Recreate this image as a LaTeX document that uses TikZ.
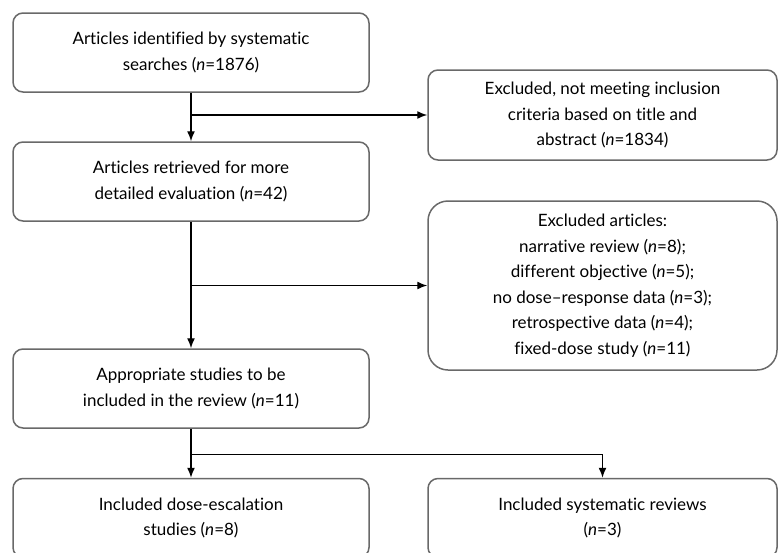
\documentclass[tikz,border=0pt]{standalone}
\usepackage{fontspec}
\setmainfont{Lato}[Ligatures=NoCommon]
\usepackage{tikz}
\usetikzlibrary{shapes.geometric, arrows, arrows.meta}
\definecolor{boxline}{RGB}{105,105,105}
\tikzstyle{stepbox} = [rectangle, rounded corners=10pt, minimum width=356pt, minimum
height=79pt, inner sep=0pt, align=center, draw=boxline, line width=1.5pt]
\tikzstyle{exclbox} = [rectangle, rounded corners=10pt, minimum width=349pt, minimum
height=90pt, inner sep=0pt, align=center, draw=boxline, line width=1.5pt]
\tikzstyle{arrow} =
[line width=1.4pt,-{Latex[length=10pt,width=8pt]}]

\begin{document}
\begin{tikzpicture}[x=1pt, y=-1pt, node distance=129pt,
  font=\fontsize{17}{25.5}\selectfont]

\useasboundingbox (0,0) rectangle (779,552);

\node(search)[stepbox] at (191,52.5){Articles identified by systematic\\searches (\emph{n}=1876)};
\node(retrieved)[stepbox, below of=search]{Articles retrieved for more\\detailed evaluation (\emph{n}=42)};
\node(studies)[stepbox, below of=retrieved, yshift=-78pt]{Appropriate studies to be\\included in the review (\emph{n}=11)};
\node(escalation)[stepbox, below of=studies, yshift=-0.5pt]{Included dose-escalation\\studies (\emph{n}=8)};

\node(title)[exclbox, right of=search, xshift=282.5pt, yshift=-62.5pt]{Excluded, not meeting inclusion\\criteria based on title and\\abstract (\emph{n}=1834)};
\node(excluded)[exclbox, rounded corners=20pt, minimum height=169pt, below of=title, yshift=-41.5pt]{Excluded articles:\\narrative review (\emph{n}=8);\\different objective (\emph{n}=5);\\no dose--response data (\emph{n}=3);\\retrospective data (\emph{n}=4);\\fixed-dose study (\emph{n}=11)};
\node(reviews)[exclbox, minimum height=79pt, right of=escalation, xshift=282.5pt]{Included systematic reviews\\(\emph{n}=3)};

\path (studies.south) ++(0,26) coordinate (split);

\draw[arrow](search) -- (retrieved);
\draw[arrow](search.south |- title.west) -- (title);
\draw[arrow](retrieved) -- (studies);
\draw[arrow](retrieved.south |- excluded.west) -- (excluded);
\draw[arrow](studies) -- (escalation);
\draw[arrow](split) -| (reviews);

\end{tikzpicture}
\end{document}
